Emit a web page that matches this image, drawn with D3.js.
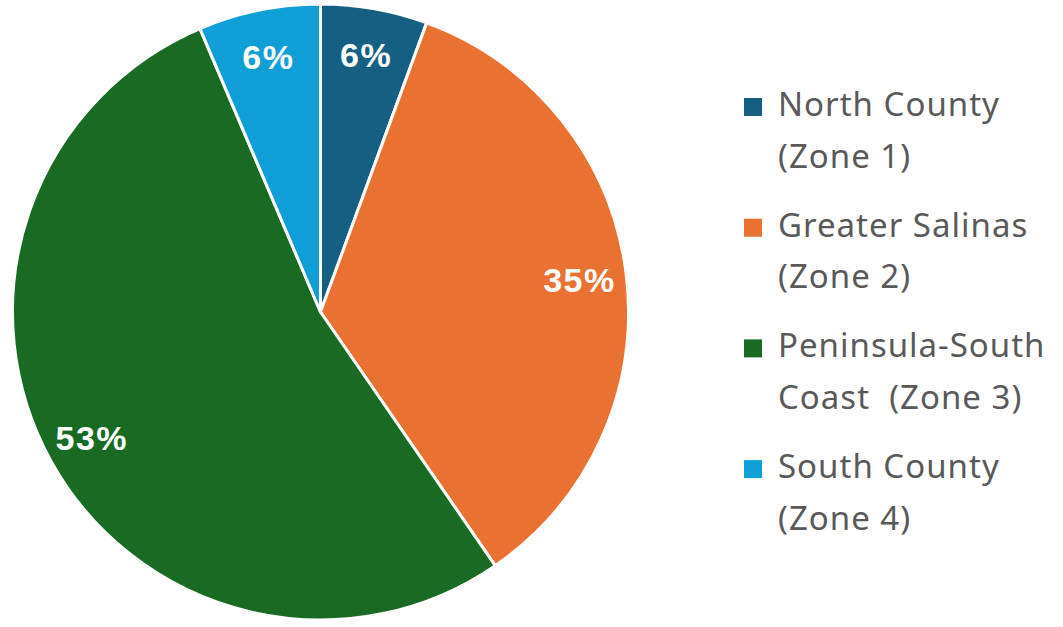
<!DOCTYPE html>
<html>
<head>
<meta charset="utf-8">
<script src="https://cdn.jsdelivr.net/npm/d3@7"></script>
<style>
    html, body { margin: 0; padding: 0; background: #ffffff; }
    svg { display: block; }
</style>
</head>
<body>
<svg id="zoneChart" width="1063" height="627"></svg>
<script>
// zone shares, clockwise from 12 o'clock
const zoneNames = [
    ["North County", "(Zone 1)"],
    ["Greater Salinas", "(Zone 2)"],
    ["Peninsula-South", "Coast  (Zone 3)"],
    ["South County", "(Zone 4)"],
];
const zoneShares = [5.6, 34.8, 53.2, 6.4];
const zoneColors = ["#156082", "#E97132", "#196B24", "#0F9ED5"];

const svg = d3.select("#zoneChart");
const cx = 320.5, cy = 312, radius = 308;

const slices = zoneShares.map((v, i) => ({ name: zoneNames[i], value: v, color: zoneColors[i] }));

const pie = d3.pie().sort(null).value((d) => d.value);
const arc = d3.arc().innerRadius(0).outerRadius(radius);
const labelArc = d3.arc().innerRadius(214).outerRadius(radius);

const g = svg.append("g").attr("transform", `translate(${cx}, ${cy})`);

const arcs = pie(slices);

g.selectAll("path")
    .data(arcs)
    .enter()
    .append("path")
    .attr("d", arc)
    .attr("fill", (d) => d.data.color)
    .attr("stroke", "#ffffff")
    .attr("stroke-width", 3)
    .attr("stroke-linejoin", "round");

const total = d3.sum(zoneShares);
g.selectAll("text.pct")
    .data(arcs)
    .enter()
    .append("text")
    .attr("class", "pct")
    .attr("transform", (d) => `translate(${labelArc.centroid(d)})`)
    .attr("dy", "0.36em")
    .attr("text-anchor", "middle")
    .style("font-family", "'Liberation Sans', Arial, sans-serif")
    .style("font-weight", "bold")
    .style("font-size", "34px")
    .style("letter-spacing", "1.5px")
    .attr("fill", "#ffffff")
    .text((d) => Math.round((d.data.value / total) * 100) + "%");

// legend
const legend = svg.append("g").attr("transform", "translate(744, 116)");
const itemStep = 120.7, lineStep = 51.5;

const items = legend.selectAll("g.item")
    .data(slices)
    .enter()
    .append("g")
    .attr("class", "item")
    .attr("transform", (d, i) => `translate(0, ${i * itemStep})`);

items.append("rect")
    .attr("x", 0)
    .attr("y", -18)
    .attr("width", 18)
    .attr("height", 18)
    .attr("fill", (d) => d.color);

const labels = items.append("text")
    .attr("x", 34)
    .attr("y", 0)
    .attr("fill", "#595959")
    .style("font-family", "'Noto Sans', 'Open Sans', sans-serif")
    .style("font-size", "33px")
    .style("letter-spacing", "1px")
    .style("white-space", "pre");

labels.selectAll("tspan")
    .data((d) => d.name)
    .enter()
    .append("tspan")
    .attr("x", 34)
    .attr("y", (d, i) => i * lineStep)
    .text((d) => d);
</script>
</body>
</html>
